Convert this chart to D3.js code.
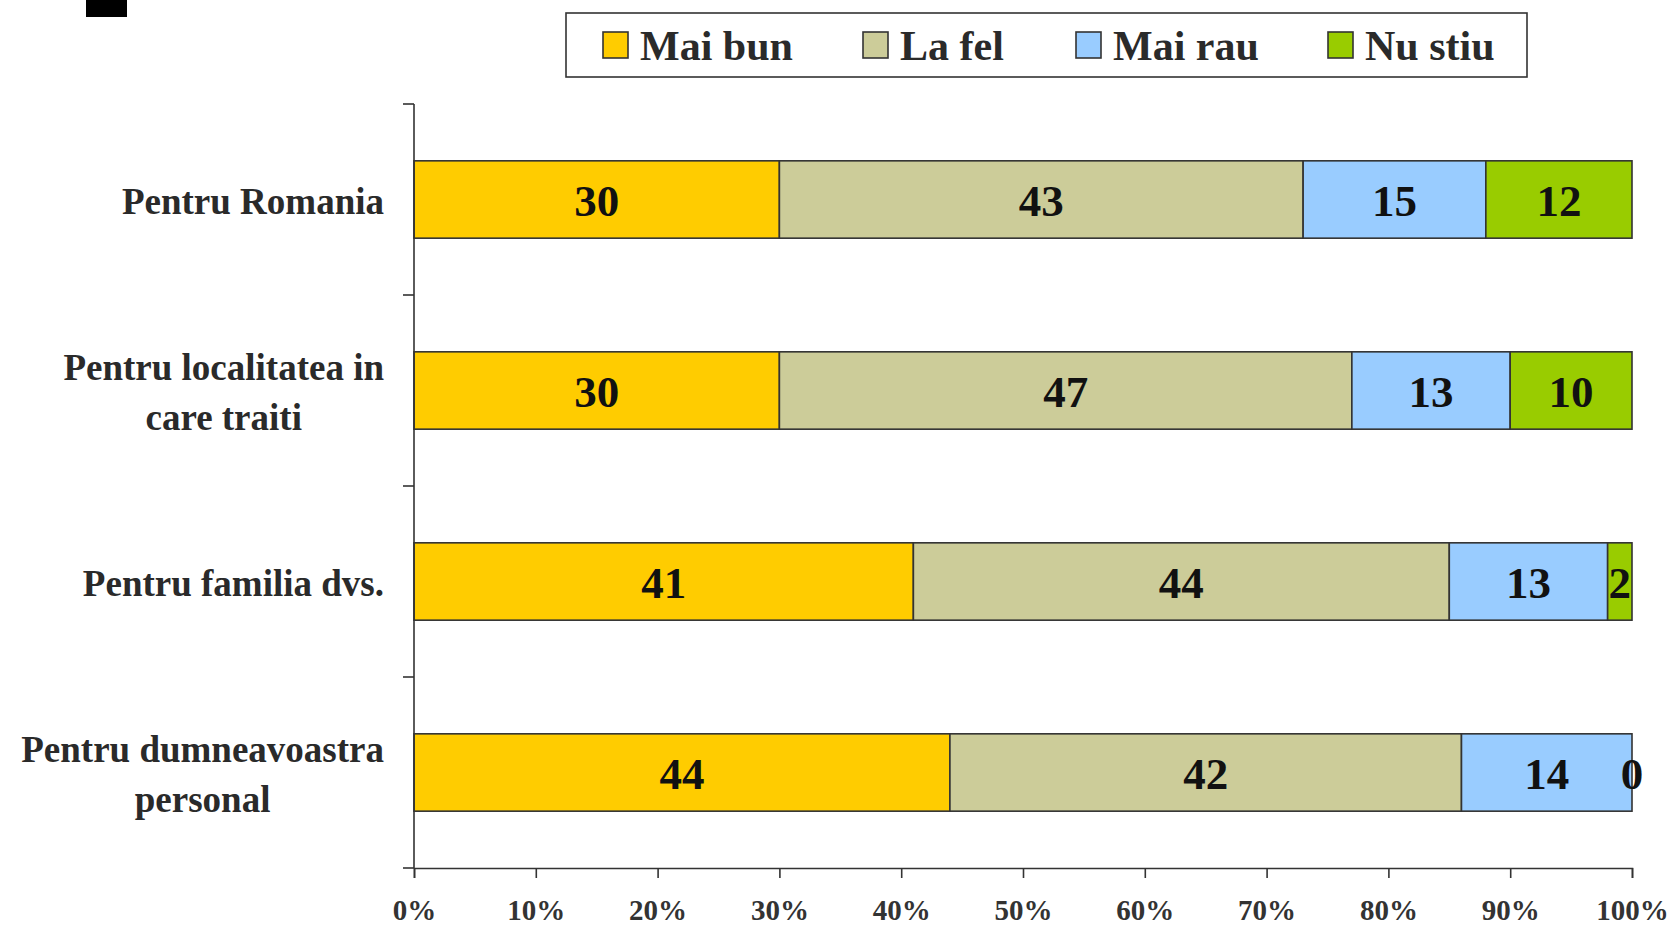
<!DOCTYPE html>
<html>
<head>
<meta charset="utf-8">
<script src="https://cdn.jsdelivr.net/npm/d3@7"></script>
<style>
  body { margin: 0; background: #fff; }
  svg { display: block; font-family: "Liberation Serif", "Times New Roman", serif; font-weight: bold; }
</style>
</head>
<body>
<svg id="chart" width="1674" height="926"></svg>
<script>
// categories (each entry is a list of label lines)
var categories = [
    ["Pentru Romania"],
    ["Pentru localitatea in", "care traiti"],
    ["Pentru familia dvs."],
    ["Pentru dumneavoastra", "personal"]
];
var seriesNames = ["Mai bun", "La fel", "Mai rau", "Nu stiu"];
var seriesColors = ["#FFCC00", "#CCCC99", "#99CCFF", "#99CC00"];

var maiBun = [30, 30, 41, 44];
var laFel = [43, 47, 44, 42];
var maiRau = [15, 13, 13, 14];
var nuStiu = [12, 10, 2, 0];

var tickValues = [0, 10, 20, 30, 40, 50, 60, 70, 80, 90, 100];

var margin = { top: 104, right: 42, bottom: 58, left: 414 },
    width = 1674 - margin.left - margin.right,
    height = 926 - margin.top - margin.bottom;

var svg = d3.select("#chart");

// cropped black mark in the corner of the original
svg.append("rect")
    .attr("x", 86).attr("y", 0)
    .attr("width", 41).attr("height", 17)
    .attr("fill", "#000");

var g = svg.append("g")
    .attr("transform", "translate(" + margin.left + "," + margin.top + ")");

// build the stacked rows
var rows = categories.map(function (c, i) {
    var vals = [maiBun[i], laFel[i], maiRau[i], nuStiu[i]];
    var total = d3.sum(vals), acc = 0;
    return vals.map(function (v, k) {
        var seg = { row: i, k: k, value: v, x0: acc / total * 100, x1: (acc + v) / total * 100 };
        acc += v;
        return seg;
    });
});

var x = d3.scaleLinear().domain([0, 100]).range([0, width]);
var y = d3.scaleBand().domain(d3.range(categories.length)).range([0, height]);
var barH = y.bandwidth() * 0.405;

// bars
var rowG = g.selectAll(".row")
    .data(rows)
    .enter().append("g")
    .attr("class", "row");

rowG.selectAll("rect")
    .data(function (d) { return d; })
    .enter().append("rect")
    .attr("x", function (d) { return x(d.x0); })
    .attr("y", function (d) { return y(d.row) + (y.bandwidth() - barH) / 2; })
    .attr("width", function (d) { return x(d.x1) - x(d.x0); })
    .attr("height", barH)
    .attr("fill", function (d) { return seriesColors[d.k]; })
    .attr("stroke", "#333")
    .attr("stroke-width", 1.6);

rowG.selectAll("text")
    .data(function (d) { return d; })
    .enter().append("text")
    .attr("x", function (d) { return x((d.x0 + d.x1) / 2); })
    .attr("y", function (d) { return y(d.row) + y.bandwidth() / 2 + 16; })
    .attr("text-anchor", "middle")
    .attr("font-size", 45)
    .attr("fill", "#111")
    .text(function (d) { return d.value; });

// x axis
var xAxis = g.append("g")
    .attr("transform", "translate(0," + height + ")")
    .call(d3.axisBottom(x).tickValues(tickValues).tickSize(10).tickPadding(21)
        .tickFormat(function (d) { return d + "%"; }));
xAxis.select(".domain").attr("stroke", "#333").attr("stroke-width", 1.6);
xAxis.selectAll(".tick line").attr("stroke", "#333").attr("stroke-width", 1.6);
xAxis.selectAll(".tick text")
    .attr("font-size", 29)
    .attr("font-family", "Liberation Serif, serif")
    .attr("font-weight", "bold")
    .attr("fill", "#333");

// y axis: line with ticks at band boundaries
var yAxis = g.append("g");
yAxis.append("line")
    .attr("x1", 0).attr("x2", 0)
    .attr("y1", 0).attr("y2", height)
    .attr("stroke", "#333").attr("stroke-width", 1.6);
yAxis.selectAll(".btick")
    .data(d3.range(categories.length + 1))
    .enter().append("line")
    .attr("x1", -11).attr("x2", 0)
    .attr("y1", function (i) { return i < categories.length ? y(i) : height; })
    .attr("y2", function (i) { return i < categories.length ? y(i) : height; })
    .attr("stroke", "#333").attr("stroke-width", 1.6);

// category labels, lines centred on each other, block right aligned
var labelRight = -30;
categories.forEach(function (lines, i) {
    var t = g.append("text")
        .attr("font-size", 37)
        .attr("fill", "#2a2a2a")
        .attr("text-anchor", "middle");
    var cy = y(i) + y.bandwidth() / 2;
    var lh = 50;
    lines.forEach(function (ln, j) {
        t.append("tspan")
            .attr("y", cy + 14 + (j - (lines.length - 1) / 2) * lh)
            .text(ln);
    });
    var maxW = 0;
    t.selectAll("tspan").each(function () { maxW = Math.max(maxW, this.getComputedTextLength()); });
    t.selectAll("tspan").attr("x", labelRight - maxW / 2);
});

// legend
var legend = svg.append("g");
legend.append("rect")
    .attr("x", 566).attr("y", 13)
    .attr("width", 961).attr("height", 64)
    .attr("fill", "#fff")
    .attr("stroke", "#333").attr("stroke-width", 1.6);
var legendX = [603, 863, 1076, 1328];
var item = legend.selectAll(".item")
    .data(seriesNames)
    .enter().append("g")
    .attr("transform", function (d, i) { return "translate(" + legendX[i] + ",32)"; });
item.append("rect")
    .attr("width", 25).attr("height", 26)
    .attr("fill", function (d, i) { return seriesColors[i]; })
    .attr("stroke", "#333").attr("stroke-width", 1.6);
item.append("text")
    .attr("x", 37).attr("y", 28)
    .attr("font-size", 42)
    .attr("fill", "#2a2a2a")
    .text(function (d) { return d; });
</script>
</body>
</html>
